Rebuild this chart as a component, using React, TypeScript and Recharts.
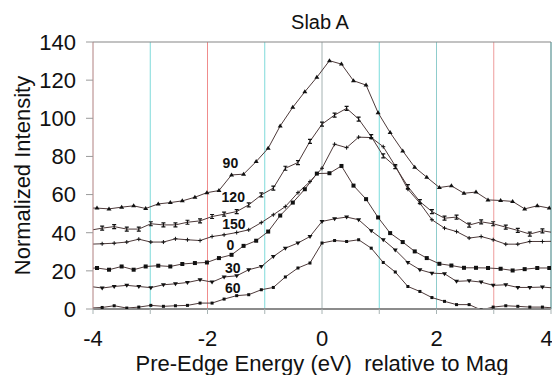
import { LineChart, Line, XAxis, YAxis, ReferenceLine, ReferenceDot } from 'recharts';

// Two energy grids: the 90/0 scans sit slightly left of the others.
// The first (and last) point of each grid lies just outside -4..4 and is clipped.
const xGridA = [-4.14, -3.93, -3.72, -3.5, -3.29, -3.08, -2.86, -2.65, -2.44, -2.22, -2.01, -1.8, -1.58,
  -1.37, -1.15, -0.94, -0.73, -0.51, -0.3, -0.09, 0.13, 0.34, 0.55, 0.77, 0.98, 1.19, 1.41, 1.62, 1.83,
  2.05, 2.26, 2.48, 2.69, 2.9, 3.12, 3.33, 3.54, 3.76, 3.97];
const xGridB = [-4.05, -3.84, -3.63, -3.41, -3.2, -2.99, -2.77, -2.56, -2.35, -2.13, -1.92, -1.71, -1.49,
  -1.28, -1.06, -0.85, -0.64, -0.42, -0.21, 0, 0.22, 0.43, 0.64, 0.86, 1.07, 1.28, 1.5, 1.71, 1.92, 2.14,
  2.35, 2.57, 2.78, 2.99, 3.21, 3.42, 3.63, 3.85, 4.06];

const s90 = [53.0, 52.9, 52.5, 53.4, 54.1, 52.7, 55.1, 55.8, 56.7, 58.6, 61.0, 62.1, 70.3, 70.7, 77.3, 84.3,
  96.0, 105.8, 113.9, 121.5, 130.2, 128.4, 119.7, 117.4, 102.9, 92.5, 82.9, 74.3, 69.1, 63.7, 64.6, 60.7,
  61.3, 57.2, 56.9, 56.4, 52.5, 54.1, 52.9];
const s120 = [41.3, 42.4, 43.2, 41.9, 41.9, 44.7, 44.1, 44.1, 45.5, 46.2, 48.5, 49.7, 51.1, 54.6, 59.8, 63.4,
  73.8, 76.8, 87.9, 96.9, 101.7, 105.2, 99.6, 90.4, 80.3, 74.7, 64.2, 56.3, 51.1, 47.6, 48.2, 44.0, 45.7,
  44.7, 42.9, 41.2, 39.3, 41.0, 40.0];
const s150 = [34.0, 34.2, 34.5, 35.1, 36.6, 35.1, 35.1, 36.8, 36.3, 35.9, 38.0, 38.9, 40.1, 41.5, 45.3, 49.4,
  53.7, 61.0, 66.8, 73.8, 86.4, 84.6, 90.1, 89.9, 85.1, 75.0, 62.8, 55.5, 46.8, 42.4, 40.6, 37.2, 38.0,
  36.3, 34.0, 34.0, 35.4, 35.4, 35.5];
const s0 = [21.3, 21.5, 20.6, 22.3, 20.6, 22.3, 22.7, 22.3, 23.6, 24.1, 24.4, 26.7, 28.4, 33.1, 35.8, 40.6,
  49.0, 55.8, 62.8, 71.0, 71.2, 75.0, 64.7, 57.6, 48.0, 39.8, 35.1, 30.2, 26.7, 23.7, 22.8, 21.6, 21.6,
  21.5, 21.1, 20.2, 20.9, 21.5, 21.5];
const s30 = [11.8, 11.0, 11.8, 12.4, 11.8, 11.2, 12.7, 13.2, 13.9, 15.3, 14.1, 16.8, 17.4, 20.6, 22.3, 27.5,
  31.9, 34.6, 38.0, 45.9, 47.3, 48.2, 46.8, 41.0, 36.3, 31.0, 24.4, 20.6, 18.8, 18.5, 14.5, 14.8, 14.1,
  12.4, 12.7, 11.3, 11.3, 11.5, 11.0];
const s60 = [0.5, 0.8, 1.7, 0.5, 1.0, 1.9, 1.4, 1.7, 1.9, 3.1, 3.1, 5.2, 7.0, 7.5, 10.1, 11.3, 16.8, 21.5,
  24.1, 34.6, 35.9, 35.4, 36.3, 31.9, 24.4, 19.4, 11.8, 9.2, 6.0, 4.0, 2.3, 2.3, -0.5, 1.0, 1.7, 1.4, 1.0,
  1.0, 0.5];

const xTicks = [-4, -3, -2, -1, 0, 1, 2, 3, 4];
const yTicks = [0, 20, 40, 60, 80, 100, 120, 140];

// inner vertical gridlines and their colours (the original has colour fringing)
const gridXs = [-3, -2, -1, 0, 1, 2, 3];
const gridColours = ['#7fdada', '#f08c8c', '#7fdada', '#a4b2b2', '#78dcdc', '#8fcccc', '#ee9c9c'];

// series name -> label anchor (data units) used for the inline labels
const seriesLabels = [
  { name: '90', x: -1.6, y: 76.6 },
  { name: '120', x: -1.55, y: 58.7 },
  { name: '150', x: -1.54, y: 44.6 },
  { name: '0', x: -1.6, y: 33.8 },
  { name: '30', x: -1.56, y: 21.5 },
  { name: '60', x: -1.56, y: 11.0 },
];

const FONT = '"Liberation Sans", Arial, sans-serif';
const LINE = '#4e3a3a';
const MARK = '#111';

type Shape = 'tri' | 'ibeam' | 'plus' | 'square' | 'triDown' | 'dot';

function makeDot(shape: Shape) {
  return (p: any) => {
    const { cx, cy, index } = p;
    if (cx == null || cy == null) return <g key={index} />;
    switch (shape) {
      case 'tri':
        return <polygon key={index} points={`${cx},${cy - 2.5} ${cx + 2.5},${cy + 1.5} ${cx - 2.5},${cy + 1.5}`} fill={MARK} />;
      case 'triDown':
        return <polygon key={index} points={`${cx - 2.5},${cy - 1.5} ${cx + 2.5},${cy - 1.5} ${cx},${cy + 2.5}`} fill={MARK} />;
      case 'ibeam':
        return (
          <path key={index} d={`M${cx - 2},${cy - 2}h4M${cx - 2},${cy + 2}h4M${cx},${cy - 2}v4`} stroke={MARK} strokeWidth={1.2} />
        );
      case 'plus':
        return <path key={index} d={`M${cx - 2},${cy}h4M${cx},${cy - 2}v4`} stroke={MARK} strokeWidth={1} />;
      case 'square':
        return <rect key={index} x={cx - 2} y={cy - 2} width={4} height={4} fill={MARK} />;
      default:
        return <rect key={index} x={cx - 1.5} y={cy - 1.5} width={3} height={3} fill={MARK} />;
    }
  };
}

const toPoints = (xs: number[], ys: number[]) => xs.map((x, i) => ({ x, y: ys[i] }));

const SERIES: { key: string; xs: number[]; ys: number[]; shape: Shape }[] = [
  { key: '90', xs: xGridA, ys: s90, shape: 'tri' },
  { key: '120', xs: xGridB, ys: s120, shape: 'ibeam' },
  { key: '150', xs: xGridB, ys: s150, shape: 'plus' },
  { key: '0', xs: xGridA, ys: s0, shape: 'square' },
  { key: '30', xs: xGridB, ys: s30, shape: 'triDown' },
  { key: '60', xs: xGridB, ys: s60, shape: 'dot' },
];

export default function App() {
  return (
    <div style={{ position: 'absolute', left: 0, top: 0, width: 552, height: 375, background: '#fff', fontFamily: FONT }}>
      <div
        style={{
          position: 'absolute', left: 0, top: 12, width: 640, textAlign: 'center',
          fontSize: 20, lineHeight: '20px', color: '#111',
        }}
      >
        Slab A
      </div>
      <LineChart width={552} height={375} margin={{ top: 42, right: 1, bottom: 0, left: 0 }}>
        <XAxis
          type="number"
          dataKey="x"
          domain={[-4, 4]}
          allowDataOverflow
          ticks={xTicks}
          tickFormatter={(v: number) => (v % 2 === 0 ? String(v) : '')}
          height={66}
          tickSize={5}
          tickMargin={16}
          stroke="#8c8c8c"
          axisLine={{ stroke: '#8c8c8c', strokeWidth: 2 }}
          tickLine={{ stroke: '#a8b4b4' }}
          tick={{ fontSize: 22, fill: '#111', fontFamily: FONT }}
          label={{
            content: (props: any) => {
              const vb = props.viewBox || { x: 93, y: 309, width: 458, height: 66 };
              return (
                <text
                  x={vb.x + vb.width / 2}
                  y={371}
                  textAnchor="middle"
                  fontSize={22}
                  fontFamily={FONT}
                  fill="#111"
                  style={{ whiteSpace: 'pre' }}
                >
                  {'Pre-Edge Energy (eV)  relative to Mag'}
                </text>
              );
            },
          }}
        />
        <YAxis
          type="number"
          domain={[0, 140]}
          allowDataOverflow
          ticks={yTicks}
          width={93}
          tickSize={7}
          tickMargin={10}
          axisLine={{ stroke: '#b08080' }}
          tickLine={{ stroke: '#9a9a9a' }}
          tick={{ fontSize: 22, fill: '#111', fontFamily: FONT }}
          label={{
            content: (props: any) => {
              const vb = props.viewBox || { x: 0, y: 42, width: 93, height: 267 };
              const cx = vb.x + 30;
              const cy = vb.y + vb.height / 2;
              return (
                <text
                  x={cx}
                  y={cy}
                  transform={`rotate(-90 ${cx} ${cy})`}
                  textAnchor="middle"
                  fontSize={22}
                  fontFamily={FONT}
                  fill="#111"
                >
                  Normalized Intensity
                </text>
              );
            },
          }}
        />
        {gridXs.map((v, i) => (
          <ReferenceLine key={`g${i}`} x={v} stroke={gridColours[i]} strokeWidth={1} />
        ))}
        <ReferenceLine x={4} stroke="#7aa9a9" strokeWidth={1.5} />
        <ReferenceLine y={140} stroke="#858585" strokeWidth={1} />
        {SERIES.map(s => (
          <Line
            key={s.key}
            data={toPoints(s.xs, s.ys)}
            dataKey="y"
            name={s.key}
            type="linear"
            stroke={LINE}
            strokeWidth={1}
            dot={makeDot(s.shape)}
            activeDot={false}
            isAnimationActive={false}
          />
        ))}
        {seriesLabels.map(l => (
          <ReferenceDot
            key={l.name}
            x={l.x}
            y={l.y}
            r={0}
            fill="none"
            stroke="none"
            label={{ value: l.name, position: 'center', fontSize: 14, fontWeight: 'bold', fill: '#111', fontFamily: FONT }}
          />
        ))}
      </LineChart>
    </div>
  );
}
